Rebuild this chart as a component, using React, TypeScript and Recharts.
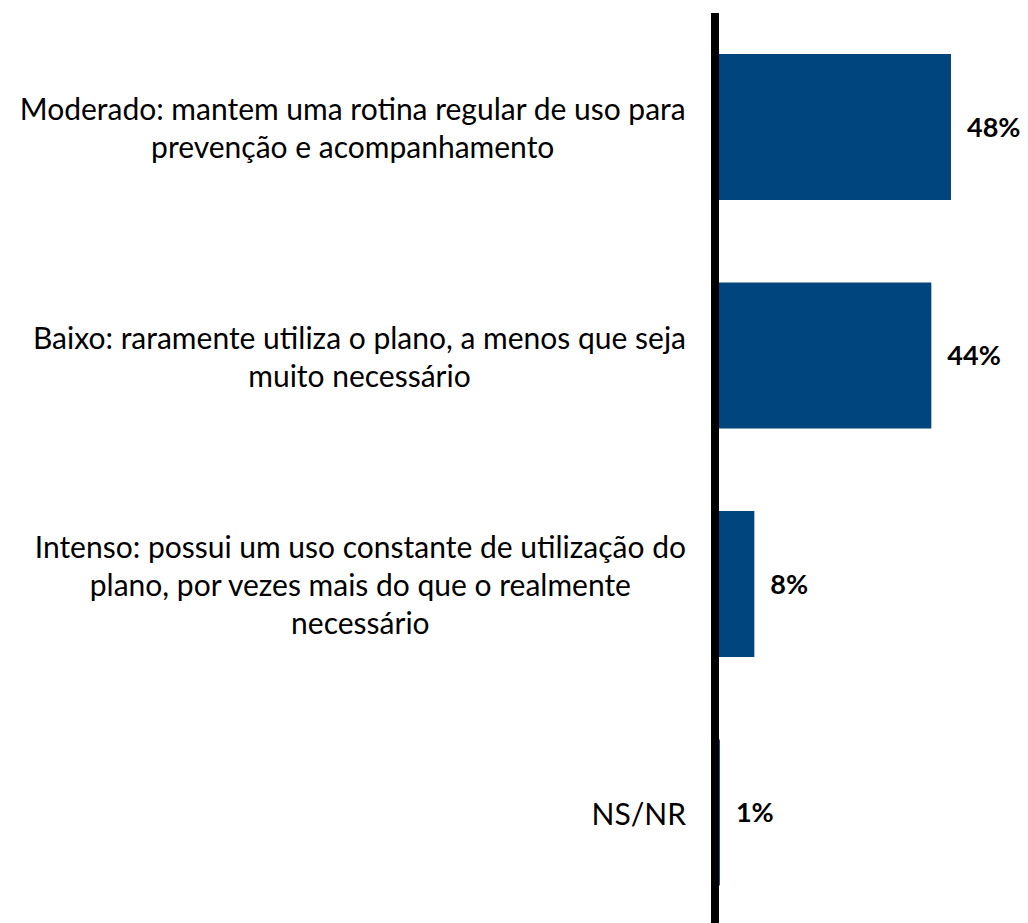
import React from "react";
import { BarChart, Bar, XAxis, YAxis, LabelList } from "recharts";

const categories = [
  "Moderado: mantem uma rotina regular de uso para prevenção e acompanhamento",
  "Baixo: raramente utiliza o plano, a menos que seja muito necessário",
  "Intenso: possui um uso constante de utilização do plano, por vezes mais do que o realmente necessário",
  "NS/NR",
];
const categoryLines = [
  ["Moderado: mantem uma rotina regular de uso para", "prevenção e acompanhamento"],
  ["Baixo: raramente utiliza o plano, a menos que seja", "muito necessário"],
  ["Intenso: possui um uso constante de utilização do", "plano, por vezes mais do que o realmente", "necessário"],
  ["NS/NR"],
];
const values = [48, 44, 8, 1];
const valueLabels = ["48%", "44%", "8%", "1%"];

const data = categories.map((c, i) => ({ name: c, value: values[i], label: valueLabels[i] }));

const FONT = "Lato, 'Open Sans', sans-serif";
const TICK_SIZE = 30;
const LINE_H = 38;

let ctx: CanvasRenderingContext2D | null = null;
function measure(t: string) {
  if (!ctx) ctx = document.createElement("canvas").getContext("2d");
  if (!ctx) return t.length * 14;
  ctx.font = `${TICK_SIZE}px Lato`;
  return ctx.measureText(t).width;
}

const Tick = (props: any) => {
  const { x, y, payload } = props;
  const idx = categories.indexOf(payload.value);
  const lines = categoryLines[idx] || [payload.value];
  const right = x - 29;
  const maxW = Math.max(...lines.map(measure));
  const cx = right - maxW / 2;
  const startY = y - ((lines.length - 1) * LINE_H) / 2;
  return (
    <g>
      {lines.map((l, i) => (
        <text
          key={i}
          x={cx}
          y={startY + i * LINE_H}
          textAnchor="middle"
          dominantBaseline="central"
          fontFamily={FONT}
          fontSize={TICK_SIZE}
          fill="#000"
        >
          {l}
        </text>
      ))}
    </g>
  );
};

export default function App() {
  return (
    <div style={{ width: 1020, height: 930 }}>
      <BarChart
        width={1020}
        height={930}
        data={data}
        layout="vertical"
        margin={{ top: 5, right: 18, bottom: 11, left: 0 }}
        barSize={146}
      >
        <XAxis type="number" domain={[0, 60]} hide />
        <YAxis
          type="category"
          dataKey="name"
          width={707}
          axisLine={{ stroke: "#000", strokeWidth: 8 }}
          tickLine={false}
          tickSize={0}
          tickMargin={0}
          tick={<Tick />}
          interval={0}
        />
        <Bar dataKey="value" fill="#00457E" isAnimationActive={false}>
          <LabelList
            dataKey="label"
            position="right"
            offset={16}
            fill="#000"
            fontFamily={FONT}
            fontWeight="bold"
            fontSize={27}
          />
        </Bar>
      </BarChart>
    </div>
  );
}
